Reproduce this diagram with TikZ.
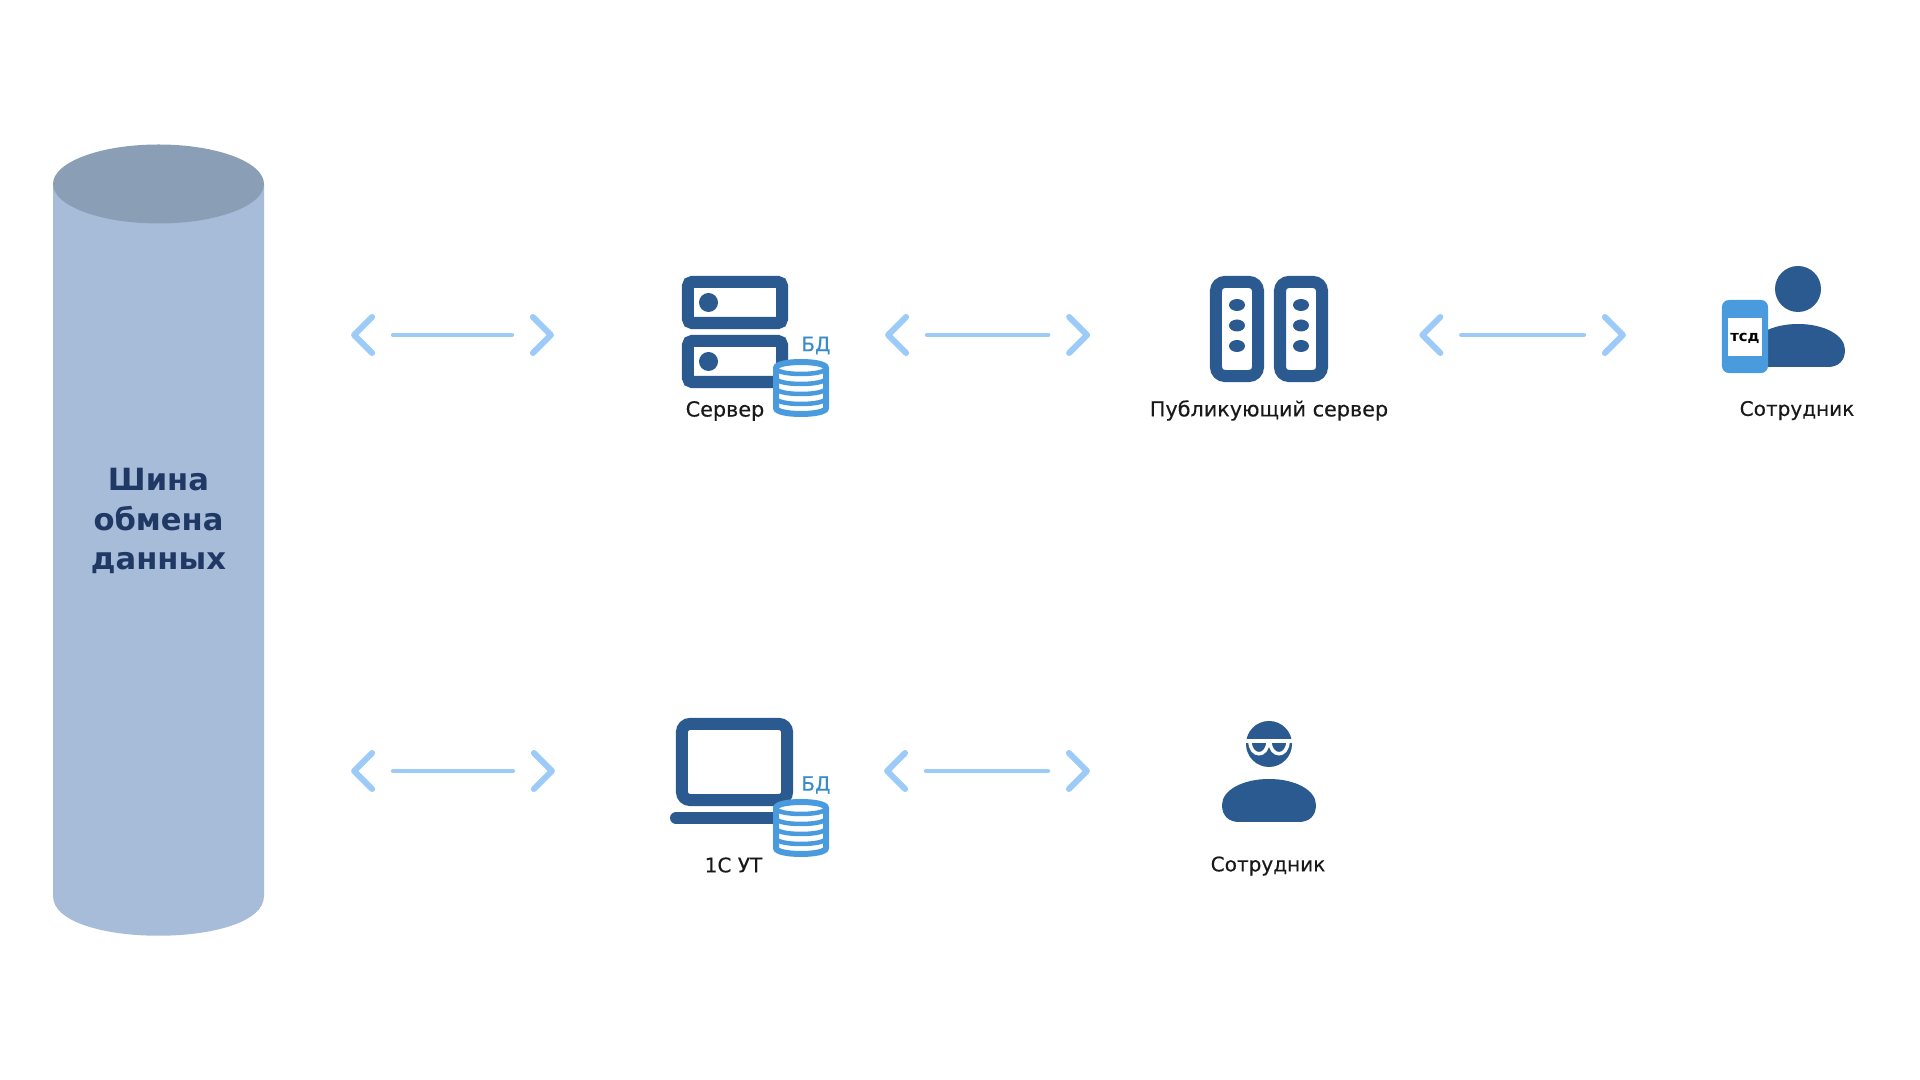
\documentclass[tikz,border=0pt]{standalone}
\usepackage{fontspec}
\setmainfont{DejaVu Sans}
\newfontfamily\labelfont[FakeBold=.35]{DejaVu Sans}
\usetikzlibrary{arrows.meta,shapes.geometric}
\definecolor{busbody}{HTML}{A7BCD9}
\definecolor{bustop}{HTML}{8A9FB5}
\definecolor{bustext}{HTML}{1F3864}
\definecolor{icondark}{HTML}{2A5A8F}
\definecolor{iconlight}{HTML}{4A9BDE}
\definecolor{linkblue}{HTML}{9CCBF8}
\definecolor{dblabel}{HTML}{3A8CC8}
\tikzset{
  linktip/.tip={Straight Barb[color=linkblue,length=.18cm,width=.36cm,line width=.06cm,round]},
  linktips/.style={arrows=linktip-linktip,draw=white,line width=.01cm},
  linkline/.style={draw=linkblue,line width=.045cm,line cap=round},
  anchorbox/.style={inner sep=0pt,outer sep=0pt,minimum height=1cm},
  framebox/.style={
    draw=icondark,
    line width=.12cm,
    rounded corners=.04cm,
    inner sep=0pt,
    fill=white
  },
  dotmark/.style={circle,fill=icondark,inner sep=0pt,minimum size=.19cm},
  pinmark/.style={ellipse,fill=icondark,inner sep=0pt,minimum width=.16cm,minimum height=.12cm},
  itemlabel/.style={font=\labelfont\fontsize{5.9}{7}\selectfont,text=black!90,inner sep=0pt},
  narrowlabel/.style={font=\labelfont\fontsize{5.7}{7}\selectfont,text=black!90,inner sep=0pt},
  dblabeltext/.style={font=\labelfont\fontsize{5.6}{7}\selectfont,text=dblabel,inner sep=0pt}
}
\newcommand{\DbStack}[1]{
  \begin{scope}[shift={#1}]
    \draw[draw=iconlight,line width=.06cm,fill=white] (-25,-20)
      .. controls (-25,-28) and (25,-28) .. (25,-20) -- (25,20)
      .. controls (25,28) and (-25,28) .. (-25,20) -- cycle;
    \foreach \ypos in {-20,-10,0,10}
      \draw[draw=iconlight,line width=.045cm] (-25,\ypos)
        .. controls (-25,\ypos+8) and (25,\ypos+8) .. (25,\ypos);
  \end{scope}
}
\newcommand{\PersonShape}[1]{
  \begin{scope}[shift={#1}]
    \fill[icondark] (0,0) circle [radius=23];
    \fill[icondark] (-47,61) .. controls (-47,46) and (-26,35) .. (0,35)
      .. controls (26,35) and (47,46) .. (47,61)
      .. controls (47,72) and (40,78) .. (30,78) -- (-30,78)
      .. controls (-40,78) and (-47,72) .. (-47,61) -- cycle;
  \end{scope}
}
% from, to, and how far each end stays clear of its node
\newcommand{\LinkArrow}[4]{
  \draw[linktips,shorten <=#3cm,shorten >=#4cm] #1 -- #2;
  \draw[linkline,shorten <=#3cm+.42cm,shorten >=#4cm+.42cm] #1 -- #2;
}

\begin{document}
\begin{tikzpicture}[x=.01cm,y=-.01cm]
  \useasboundingbox (0,0) rectangle (1920,1080);

  % bus
  \fill[busbody] (53,184) -- (53,896) .. controls (53,949) and (264,949) .. (264,896)
    -- (264,184) -- cycle;
  \fill[bustop] (158.5,184) ellipse [x radius=105.5,y radius=39.5];
  \node[anchorbox,minimum width=2.11cm,minimum height=7.91cm] (bus) at (158.5,540) {};
  \node[font=\bfseries\fontsize{8.7}{11.1}\selectfont,text=bustext,align=center,inner sep=0pt]
    (bustitle) at (158.5,521) {Шина\\обмена\\данных};

  % anchors for the links
  \node[anchorbox,minimum width=1.06cm] (srv) at (735,335) {};
  \node[anchorbox,minimum width=1.175cm] (pub) at (1269,335) {};
  \node[anchorbox,minimum width=1.23cm] (usr) at (1783.5,335) {};
  \node[anchorbox,minimum width=1.23cm] (pc) at (731.5,771) {};
  \node[anchorbox,minimum width=.94cm] (emp) at (1269,771) {};

  % server
  \node[framebox,minimum width=.94cm,minimum height=.41cm] (srvtop) at (735,302.5) {};
  \node[framebox,minimum width=.94cm,minimum height=.41cm] (srvbot) at (735,361.5) {};
  \node[dotmark] (srvtopdot) at (708.5,302.5) {};
  \node[dotmark] (srvbotdot) at (708.5,361.5) {};
  \DbStack{(801,388)}
  \node[dblabeltext] (srvdb) at (816,345.5) {БД};
  \node[itemlabel] (srvlabel) at (725,411) {Сервер};

  % publishing server
  \foreach \xpos/\rack in {1237/a,1301/b} {
    \node[framebox,rounded corners=.09cm,minimum width=.42cm,minimum height=.94cm] (rack\rack) at (\xpos,329) {};
    \foreach \ypos in {305,325.5,346}
      \node[pinmark] at (\xpos,\ypos) {};
  }
  \node[itemlabel] (publabel) at (1269,410.5) {Публикующий сервер};

  % employee with scanner
  \PersonShape{(1798,289)}
  \node[draw=none,fill=iconlight,rounded corners=.07cm,minimum width=.46cm,minimum height=.73cm,inner sep=0pt] (tsdcase) at (1745,336.5) {};
  \node[fill=white,minimum width=.34cm,minimum height=.38cm,inner sep=0pt] (tsdscreen) at (1745,337) {};
  \node[font=\bfseries\fontsize{4.2}{5}\selectfont,text=black,inner sep=0pt] (tsdtext) at (1745,338.5) {тсд};
  \node[narrowlabel] (usrlabel) at (1797,410.5) {Сотрудник};

  % pc
  \node[framebox,rounded corners=.08cm,minimum width=1.05cm,minimum height=.76cm] (pcscreen) at (734.5,762) {};
  \draw[draw=icondark,line width=.12cm,line cap=round] (676,818) -- (780,818);
  \DbStack{(801,828)}
  \node[dblabeltext] (pcdb) at (816,785) {БД};
  \node[narrowlabel] (pclabel) at (733.5,865) {1С УТ};

  % employee in glasses
  \PersonShape{(1269,744)}
  \draw[draw=white,line width=.035cm] (1246,741) -- (1292,741);
  \draw[draw=white,line width=.035cm] (1250,741) .. controls (1250,758) and (1268,758) .. (1268,741);
  \draw[draw=white,line width=.035cm] (1270,741) .. controls (1270,758) and (1288,758) .. (1288,741);
  \node[narrowlabel] (emplabel) at (1268,866) {Сотрудник};

  % links
  \LinkArrow{(bus.east |- srv.west)}{(srv.west)}{.87}{1.28}
  \LinkArrow{(srv.east)}{(pub.west)}{.97}{1.20}
  \LinkArrow{(pub.east)}{(usr.west)}{.915}{.96}
  \LinkArrow{(bus.east |- pc.west)}{(pc.west)}{.87}{1.15}
  \LinkArrow{(pc.east)}{(emp.west)}{.91}{1.32}
\end{tikzpicture}
\end{document}
